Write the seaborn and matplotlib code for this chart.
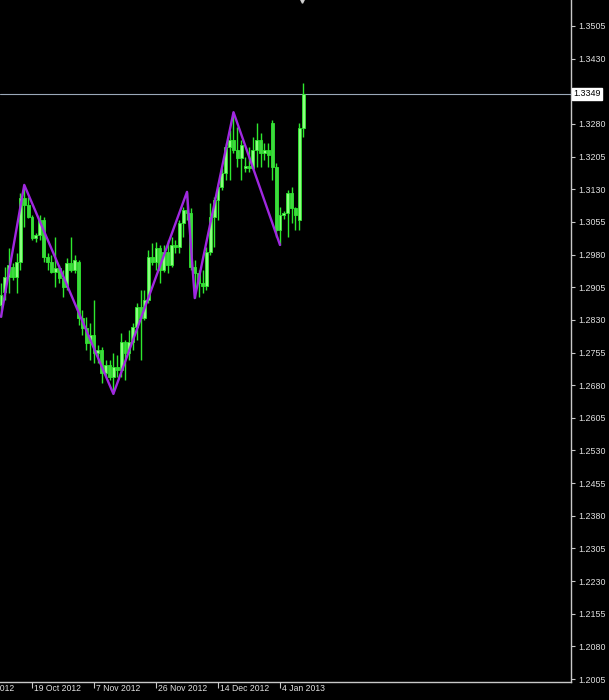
"""EURUSD daily candles with zigzag overlay, MetaTrader-style black chart."""

import matplotlib

matplotlib.use("Agg")
import matplotlib.pyplot as plt
import matplotlib.transforms as mtransforms
import numpy as np
import pandas as pd
import seaborn as sns

# daily bars (bar 8 = 19 Oct 2012, bar 72 = 4 Jan 2013)
OPEN = [1.2864, 1.2894, 1.2928, 1.2951, 1.2928, 1.2963, 1.3110, 1.3094, 1.3066, 1.3018,
        1.3025, 1.3059, 1.2974, 1.2963, 1.2940, 1.2949, 1.2926, 1.2905, 1.2961, 1.2944,
        1.2963, 1.2834, 1.2811, 1.2777, 1.2795, 1.2754, 1.2761, 1.2708, 1.2726, 1.2699,
        1.2722, 1.2715, 1.2779, 1.2754, 1.2779, 1.2814, 1.2860, 1.2834, 1.2876, 1.2974,
        1.2963, 1.2995, 1.2944, 1.2986, 1.2956, 1.3002, 1.2997, 1.3052, 1.3082, 1.3075,
        1.2951, 1.2938, 1.2915, 1.2908, 1.2986, 1.3066, 1.3105, 1.3135, 1.3167, 1.3227,
        1.3243, 1.3220, 1.3202, 1.3179, 1.3183, 1.3179, 1.3220, 1.3243, 1.3213, 1.3220,
        1.3282, 1.3181, 1.3036, 1.3071, 1.3075, 1.3121, 1.3087, 1.3059, 1.3271]
HIGH = [1.2915, 1.2951, 1.2995, 1.2961, 1.2984, 1.3121, 1.3140, 1.3112, 1.3071, 1.3030,
        1.3071, 1.3066, 1.2984, 1.2979, 1.3020, 1.2956, 1.2944, 1.2972, 1.3020, 1.2979,
        1.2968, 1.2853, 1.2837, 1.2823, 1.2876, 1.2772, 1.2768, 1.2738, 1.2738, 1.2754,
        1.2749, 1.2800, 1.2784, 1.2807, 1.2823, 1.2869, 1.2899, 1.2899, 1.2990, 1.3006,
        1.3009, 1.3002, 1.3002, 1.3013, 1.3020, 1.3013, 1.3059, 1.3089, 1.3124, 1.3087,
        1.2968, 1.2944, 1.2944, 1.2997, 1.3098, 1.3112, 1.3144, 1.3179, 1.3236, 1.3266,
        1.3307, 1.3273, 1.3243, 1.3204, 1.3227, 1.3250, 1.3282, 1.3259, 1.3236, 1.3236,
        1.3289, 1.3190, 1.3089, 1.3080, 1.3128, 1.3135, 1.3089, 1.3282, 1.3374]
LOW = [1.2837, 1.2876, 1.2892, 1.2922, 1.2892, 1.2944, 1.3043, 1.3064, 1.3013, 1.3009,
       1.3013, 1.2963, 1.2944, 1.2938, 1.2905, 1.2915, 1.2882, 1.2899, 1.2940, 1.2938,
       1.2818, 1.2795, 1.2761, 1.2738, 1.2731, 1.2731, 1.2685, 1.2699, 1.2692, 1.2660,
       1.2699, 1.2699, 1.2692, 1.2738, 1.2761, 1.2784, 1.2738, 1.2830, 1.2869, 1.2956,
       1.2944, 1.2915, 1.2940, 1.2938, 1.2951, 1.2984, 1.2984, 1.3020, 1.3059, 1.2944,
       1.2880, 1.2882, 1.2892, 1.2899, 1.2979, 1.2997, 1.3059, 1.3128, 1.3151, 1.3151,
       1.3213, 1.3181, 1.3151, 1.3170, 1.3170, 1.3174, 1.3181, 1.3181, 1.3197, 1.3181,
       1.3151, 1.3020, 1.3002, 1.3062, 1.3020, 1.3052, 1.3036, 1.3036, 1.3250]
CLOSE = [1.2887, 1.2928, 1.2956, 1.2928, 1.2963, 1.3110, 1.3094, 1.3066, 1.3018, 1.3025,
         1.3059, 1.2974, 1.2963, 1.2940, 1.2949, 1.2926, 1.2905, 1.2961, 1.2944, 1.2968,
         1.2834, 1.2811, 1.2777, 1.2795, 1.2754, 1.2761, 1.2708, 1.2726, 1.2699, 1.2722,
         1.2715, 1.2779, 1.2754, 1.2779, 1.2814, 1.2860, 1.2834, 1.2876, 1.2974, 1.2963,
         1.2995, 1.2944, 1.2986, 1.2956, 1.3002, 1.2997, 1.3052, 1.3082, 1.3075, 1.2951,
         1.2938, 1.2915, 1.2908, 1.2986, 1.3066, 1.3105, 1.3135, 1.3167, 1.3227, 1.3243,
         1.3220, 1.3202, 1.3232, 1.3183, 1.3179, 1.3220, 1.3243, 1.3213, 1.3220, 1.3209,
         1.3181, 1.3036, 1.3071, 1.3075, 1.3121, 1.3087, 1.3071, 1.3271, 1.3349]

ZIGZAG_BARS = [0, 6, 29, 48, 50, 60, 72]
ZIGZAG_PRICES = [1.2837, 1.3140, 1.2660, 1.3124, 1.2880, 1.3307, 1.3002]

LAST_PRICE = 1.3349
PRICE_TICKS = [1.2005, 1.2080, 1.2155, 1.2230, 1.2305, 1.2380, 1.2455, 1.2530, 1.2605,
               1.2680, 1.2755, 1.2830, 1.2905, 1.2980, 1.3055, 1.3130, 1.3205, 1.3280,
               1.3430, 1.3505]
DATE_BARS = [-8, 8, 24, 40, 56, 72]
DATE_LABELS = ["1 Oct 2012", "19 Oct 2012", "7 Nov 2012", "26 Nov 2012",
               "14 Dec 2012", "4 Jan 2013"]

WICK = "#2ee82e"
BULL = "#8cff80"
BEAR = "#3fd83f"
ZIGZAG = "#a028e0"
AXIS = "#c8c8c8"


def main() -> None:
    sns.set_style("dark", {"axes.facecolor": "black", "figure.facecolor": "black"})
    plt.rcParams["font.family"] = ["Liberation Sans", "DejaVu Sans"]

    df = pd.DataFrame({"open": OPEN, "high": HIGH, "low": LOW, "close": CLOSE})
    df["bar"] = np.arange(len(df))
    df["bottom"] = df[["open", "close"]].min(axis=1)
    df["height"] = (df["close"] - df["open"]).abs().clip(lower=0.00012)
    df["face"] = np.where(df["close"] >= df["open"], BULL, BEAR)

    fig = plt.figure(figsize=(6.09, 7.0), dpi=100, facecolor="black")
    ax = fig.add_axes([0, 18 / 700, 571 / 609, 682 / 700], facecolor="black")

    # candles
    ax.vlines(df["bar"], df["low"], df["high"], color=WICK, linewidth=1.0, zorder=2)
    ax.bar(df["bar"], df["height"], bottom=df["bottom"], width=0.72,
           color=df["face"], edgecolor=WICK, linewidth=0.6, zorder=3)

    # zigzag overlay
    sns.lineplot(x=ZIGZAG_BARS, y=ZIGZAG_PRICES, ax=ax, color=ZIGZAG,
                 linewidth=1.7, estimator=None, sort=False, zorder=4)

    # last price line
    ax.axhline(LAST_PRICE, color="#9aa8b8", linewidth=0.8, zorder=1)

    ax.set_xlim(-0.26, 147.1)
    ax.set_ylim(1.19982, 1.35647)

    for side in ("top", "left"):
        ax.spines[side].set_visible(False)
    for side in ("right", "bottom"):
        ax.spines[side].set_color(AXIS)
        ax.spines[side].set_linewidth(1.0)

    ax.yaxis.tick_right()
    ax.set_yticks(PRICE_TICKS)
    ax.set_yticklabels([f"{v:.4f}" for v in PRICE_TICKS])
    ax.tick_params(axis="y", colors=AXIS, labelcolor="#e0e0e0", length=3,
                   width=0.8, pad=2, labelsize=6.4, right=True, left=False)

    ax.set_xticks([b for b in DATE_BARS if b >= 0])
    ax.set_xticklabels([])
    ax.tick_params(axis="x", colors=AXIS, length=4, width=0.8, bottom=True)
    ax.set_xlabel("")
    ax.set_ylabel("")
    ax.grid(False)

    xtrans = mtransforms.blended_transform_factory(ax.transData, ax.transAxes)
    offset = mtransforms.ScaledTranslation(2 / 100, -2 / 100, fig.dpi_scale_trans)
    for bar, label in zip(DATE_BARS, DATE_LABELS):
        ax.text(bar, 0, label, transform=xtrans + offset, ha="left", va="top",
                fontsize=6.2, color="#e0e0e0", clip_on=False)

    ytrans = mtransforms.blended_transform_factory(ax.transAxes, ax.transData)
    ax.text(1.0045, LAST_PRICE, f"{LAST_PRICE:.4f}", transform=ytrans, ha="left",
            va="center", fontsize=6.4, color="black", clip_on=False, zorder=6,
            bbox=dict(boxstyle="square,pad=0.15", facecolor="white", edgecolor="white"))

    # chart shift marker at the top
    ax.plot([df["bar"].iloc[-1] - 0.3], [1.3563], marker="v", markersize=2.5,
            color="#d0d0d0", clip_on=False, zorder=6)

    fig.savefig("out.png", dpi=100, facecolor="black")
    plt.close(fig)


if __name__ == "__main__":
    main()
